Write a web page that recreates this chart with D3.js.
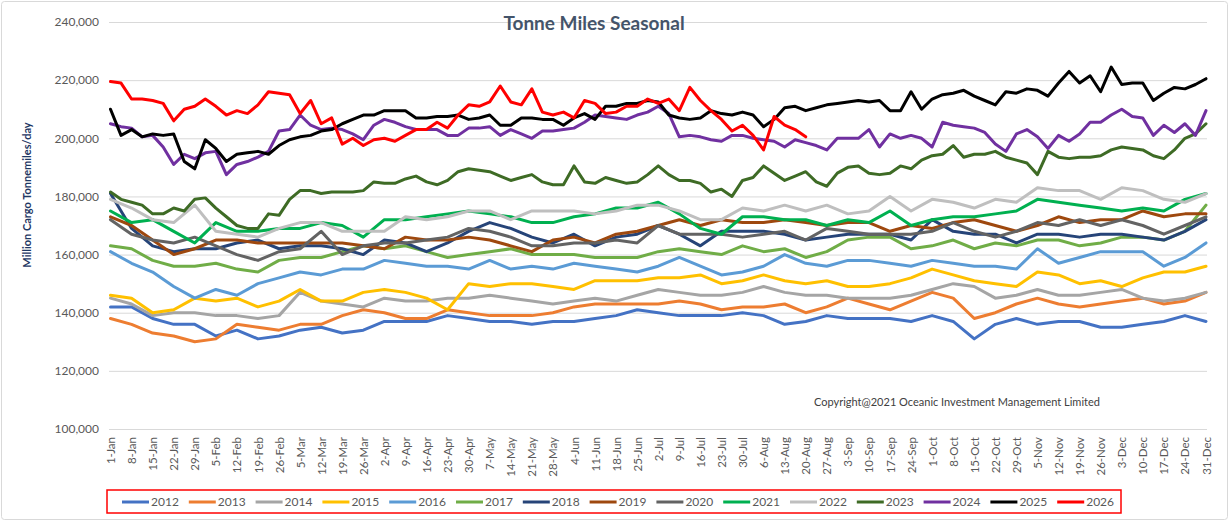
<!DOCTYPE html>
<html><head><meta charset="utf-8">
<script src="https://cdn.jsdelivr.net/npm/d3@7"></script>
<style>
body{margin:0;background:#fff;}
svg{display:block;font-family:Lato,'Open Sans',sans-serif;}
</style></head><body>
<svg id="chart" width="1231" height="524"></svg>
<script>
const tickLabels = ["1-Jan","8-Jan","15-Jan","22-Jan","29-Jan","5-Feb","12-Feb","19-Feb","26-Feb","5-Mar","12-Mar","19-Mar","26-Mar","2-Apr","9-Apr","16-Apr","23-Apr","30-Apr","7-May","14-May","21-May","28-May","4-Jun","11-Jun","18-Jun","25-Jun","2-Jul","9-Jul","16-Jul","23-Jul","30-Jul","6-Aug","13-Aug","20-Aug","27-Aug","3-Sep","10-Sep","17-Sep","24-Sep","1-Oct","8-Oct","15-Oct","22-Oct","29-Oct","5-Nov","12-Nov","19-Nov","26-Nov","3-Dec","10-Dec","17-Dec","24-Dec","31-Dec"];
const yTickValues = [100000,120000,140000,160000,180000,200000,220000,240000];
const years = ["2012","2013","2014","2015","2016","2017","2018","2019","2020","2021","2022","2023","2024","2025","2026"];
const colors = ["#4472C4","#ED7D31","#A5A5A5","#FFC000","#5B9BD5","#70AD47","#264478","#9E480E","#636363","#00B050","#BFBFBF","#3E6B25","#7030A0","#000000","#FF0000"];
// readings per week for each series (1 = weekly, 2 = twice a week)
const readingsPerWeek = [1,1,1,1,1,1,1,1,1,1,1,2,2,2,2];

// values in thousand tonne-miles/day (x1000)
const v2012 = [142,142,138,136,136,132,134,131,132,134,135,133,134,137,137,137,139,138,137,137,136,137,137,138,139,141,140,139,139,139,140,139,136,137,139,138,138,138,137,139,137,131,136,138,136,137,137,135,135,136,137,139,137];
const v2013 = [138,136,133,132,130,131,136,135,134,136,136,139,141,140,138,138,141,140,139,139,139,140,142,143,143,143,143,144,143,141,142,142,143,140,142,145,143,141,144,147,145,138,140,143,145,143,142,143,144,145,143,144,147];
const v2014 = [145,143,139,140,140,139,139,138,139,147,144,143,142,145,144,144,145,145,146,145,144,143,144,145,144,146,148,147,146,146,147,149,147,146,146,145,145,145,146,148,150,149,145,146,148,146,146,147,148,145,144,145,147];
const v2015 = [146,145,140,141,145,144,145,142,144,148,144,144,147,148,147,145,141,150,149,150,150,149,148,151,151,151,152,152,153,150,151,153,151,150,151,149,149,150,152,155,153,151,150,149,154,153,150,151,149,152,154,154,156];
const v2016 = [161,157,154,149,145,148,146,150,152,154,153,155,155,158,157,156,156,155,158,155,156,155,157,156,155,154,156,159,156,153,154,156,160,157,156,158,158,157,156,158,157,156,156,155,162,157,159,161,161,161,156,159,164];
const v2017 = [163,162,158,156,156,157,155,154,158,159,159,161,163,162,163,161,159,160,161,162,160,160,160,159,159,159,161,162,161,160,163,161,162,159,161,165,166,166,162,163,165,162,164,163,165,165,163,164,166,166,165,168,177];
const v2018 = [181,169,163,161,162,162,164,165,162,163,163,162,160,165,164,161,164,168,171,169,166,164,167,163,166,167,170,167,163,168,168,168,167,165,166,167,167,167,165,172,168,167,167,164,167,167,166,167,167,166,165,168,172];
const v2019 = [173,170,165,160,162,165,165,164,164,164,164,164,163,162,166,165,165,166,165,163,161,165,166,164,167,168,170,172,170,172,171,171,172,171,170,171,171,168,170,169,171,172,170,168,170,173,171,172,172,175,173,174,174];
const v2020 = [172,167,165,164,166,163,160,158,161,162,168,160,163,164,164,165,166,169,168,166,163,163,164,164,165,164,170,167,167,167,166,167,168,165,169,168,167,167,167,168,171,168,166,168,171,170,172,170,172,170,167,170,173];
const v2021 = [175,171,172,168,164,171,168,168,169,169,171,170,166,172,172,173,174,175,174,173,171,171,173,174,176,176,178,174,169,167,173,173,172,172,170,172,171,175,170,172,173,173,174,175,179,178,177,176,175,176,175,179,181];
const v2022 = [179,176,172,171,177,168,167,166,169,171,171,168,168,168,173,172,173,175,175,172,175,175,175,174,175,177,177,175,172,172,176,175,177,175,177,174,175,180,175,179,178,176,179,178,183,182,182,179,183,182,179,178,181];
const v2023 = [181.5,179,178,177,174,174,176,175,179,179.5, 176,173,170,169,169,174,173.5,179,182,182, 181,181.5,181.5,181.5,182,185,184.5,184.5,186,187, 185,184,185.5,188.5,189.5,
  189,188.5,187,185.5,186.5,187.5,185,184,184,190.5, 185,184.5,186.5,185.5,184.5,185,187.5,190.5,187.5,185.5, 185.5,184.5,181.5,182.5,180,185.5,186.5,190.5,188,185.5, 187,188.5,185,183.5,188,
  190,190.5,188,187.5,188,190.5,189.5,192.5,194,194.5, 197.5,193.5,194.5,194.5,195.5,193.5,192.5,191.5,187.5,195.5, 193.5,193,193.5,193.5,194,196,197,196.5,196,194, 193,196,200,201.5,205];
const v2024 = [205,204,203.5,200.5,201,197,191,194.5,193,195, 195.5,187.5,191,192,193.5,195.5,202.5,203,208,204.5, 203,203.5,203,201.5,199.5,204.5,206.5,205.5,204,203, 203,203,201,201,203.5,
  203.5,204,201,203,201.5,200,202.5,202.5,203,203.5, 205.5,208,207.5,207,206.5,208,209,211,208.5,200.5, 201,200.5,199.5,199,201,201,200,199.5,199,197, 199.5,198.5,197.5,196,200,
  200,200,203,197,201.5,200,201,200,197,205.5, 204.5,204,203.5,202,198,195.5,201.5,203,200.5,196.5, 201,199,201.5,205.5,205.5,208,210,207.5,207,201, 204.5,202,205,201,209.5];
const v2025 = [210,201,203,200.5,201.5,201,201.5,192,189.5,199.5, 196.5,192,194.5,195,195.5,194.5,197.5,199.5,200.5,201, 202.5,203,205,206.5,208,208,209.5,209.5,209.5,207, 207,207.5,207.5,208,206.5,
  207,208,204.5,204.5,207,207,206.5,206.5,204.5,207, 208.5,206.5,211,211,212,212,213,212.5,208,207, 206.5,207,209.5,208.5,208,209,208,204,206.5,210.5, 211,209.5,210.5,211.5,212,
  212.5,213,212.5,213,209.5,209.5,216,210,213.5,215, 215.5,216.5,214.5,213,211.5,216,215.5,217,216.5,214.5, 219,223,219,221.5,216,224.5,218.5,219,219,213, 215.5,217.5,217,218.5,220.5];
const v2026 = [219.5,219,213.5,213.5,213,212,206,210,211,213.5, 211,208,209.5,208.5,211.5,216,215.5,215,208.5,213, 205,207,198,200,197.5,199.5,200,199,201,203, 203,205.5,203.5,208,211.5,
  211,212.5,218,212.5,211.5,217,209,208,209,207, 213,212,208.5,209,211,211,213.5,212,213.5,209.5, 217.5,213,209.5,206.5,202.5,204.5,201,196,207.5,204.5, 203,200.5];
const seriesValues = [v2012,v2013,v2014,v2015,v2016,v2017,v2018,v2019,v2020,v2021,v2022,v2023,v2024,v2025,v2026];

const svg = d3.select("#chart");
const plotLeft = 109, plotRight = 1207, plotTop = 22, plotBottom = 429;
const x = d3.scaleLinear().domain([0, tickLabels.length - 1]).range([110.5, 1206]);
const y = d3.scaleLinear().domain([100000, 240000]).range([plotBottom, plotTop]);

// outer frame
svg.append("rect").attr("x",1.5).attr("y",1.5).attr("width",1226).attr("height",518)
  .attr("rx",3).attr("fill","#fff").attr("stroke","#D9D9D9").attr("stroke-width",1);

// y axis + gridlines
const yAxis = svg.append("g").attr("transform",`translate(${plotLeft},0)`)
  .call(d3.axisLeft(y).tickValues(yTickValues).tickSize(-(plotRight-plotLeft)).tickPadding(10).tickFormat(d3.format(",")));
yAxis.select(".domain").remove();
yAxis.selectAll(".tick line").attr("stroke","#D9D9D9").attr("stroke-width",1);
yAxis.selectAll(".tick text").attr("fill","#595959").style("font-size","12px").style("font-family","Lato");

// x axis labels
const xAxis = svg.append("g").attr("transform",`translate(0,${plotBottom})`)
  .call(d3.axisBottom(x).tickValues(d3.range(tickLabels.length)).tickSize(0).tickFormat(i => tickLabels[i]));
xAxis.select(".domain").remove();
xAxis.selectAll(".tick text")
  .attr("transform","rotate(-90)").attr("x",-8).attr("y",0).attr("dy","0.35em")
  .style("text-anchor","end").attr("fill","#595959").style("font-size","11.5px").style("font-family","Lato");

// lines
svg.append("g").selectAll("path").data(seriesValues).join("path")
  .attr("d", (d,s) => d3.line().x((v,i)=>x(i / readingsPerWeek[s])).y(v=>y(v*1000))(d))
  .attr("fill","none")
  .attr("stroke",(d,i)=>colors[i])
  .attr("stroke-width",3)
  .attr("stroke-linejoin","round")
  .attr("stroke-linecap","round");

// title
svg.append("text").attr("x",594).attr("y",30).attr("text-anchor","middle")
  .style("font-size","19px").style("font-weight","bold").attr("fill","#44546A").text("Tonne Miles Seasonal");

// y axis title
svg.append("text").attr("transform","translate(31,195) rotate(-90)").attr("text-anchor","middle")
  .style("font-size","11px").style("font-weight","bold").attr("fill","#1F3864").text("Million Cargo Tonnemiles/day");

// copyright
svg.append("text").attr("x",814).attr("y",406)
  .style("font-size","11px").attr("fill","#404040").text("Copyright@2021 Oceanic Investment Management Limited");

// legend
svg.append("rect").attr("x",107).attr("y",490).attr("width",1014).attr("height",23)
  .attr("fill","none").attr("stroke","#FF0000").attr("stroke-width",1.5);
const lg = svg.append("g").selectAll("g").data(years).join("g")
  .attr("transform",(d,i)=>`translate(${122 + i*66.8},502)`);
lg.append("line").attr("x1",0).attr("x2",27).attr("y1",0).attr("y2",0)
  .attr("stroke",(d,i)=>colors[i]).attr("stroke-width",3);
lg.append("text").attr("x",29).attr("dy","0.35em").style("font-size","12px")
  .attr("fill","#595959").text(d=>d);
</script>
</body></html>
